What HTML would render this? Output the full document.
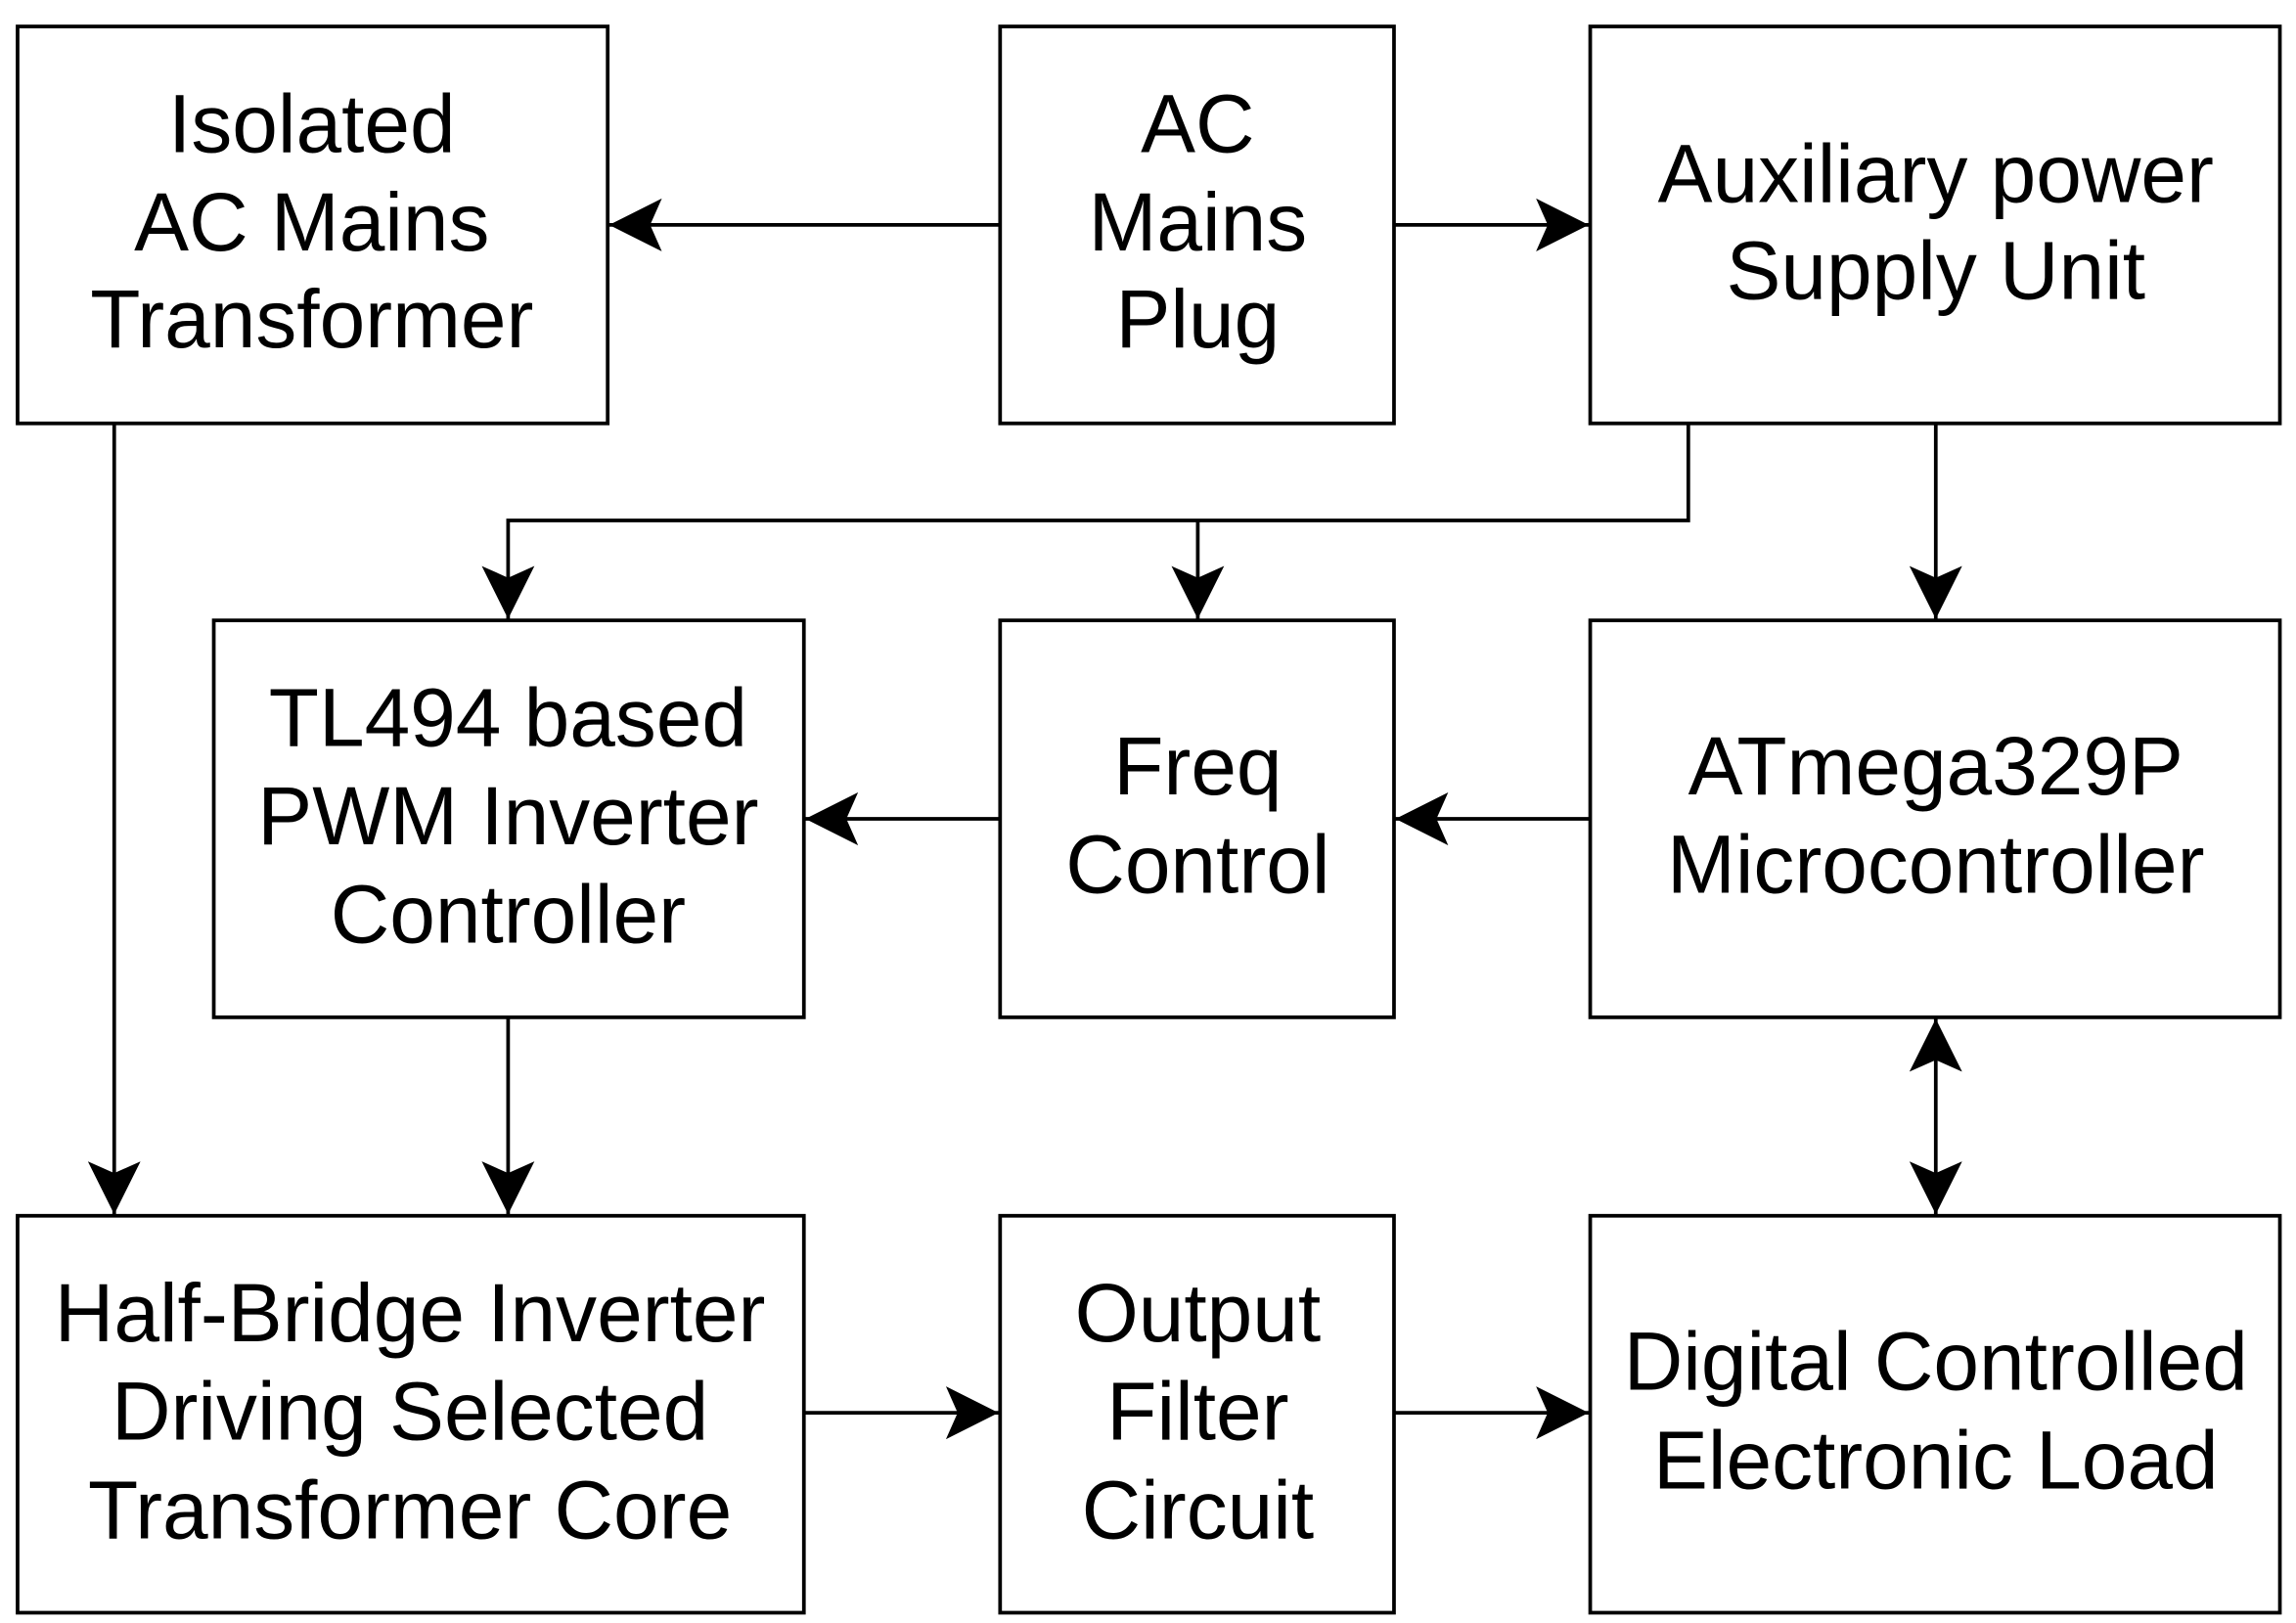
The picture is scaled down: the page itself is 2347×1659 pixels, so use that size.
<!DOCTYPE html>
<html><head><meta charset="utf-8"><style>html,body{margin:0;padding:0;background:#fff}svg{display:block}</style></head>
<body>
<svg width="2347" height="1659" viewBox="0 0 1568 1104" preserveAspectRatio="none" xmlns="http://www.w3.org/2000/svg">
<defs>
<marker id="a" viewBox="0 0 36 36" refX="36" refY="18" markerWidth="36" markerHeight="36" markerUnits="userSpaceOnUse" orient="auto-start-reverse">
<path d="M0,0 L36,18 L0,36 L8,18 Z" fill="#000"/>
</marker>
</defs>
<g fill="none" stroke="#000" stroke-width="2.5">
<rect x="12" y="18" width="403" height="270"/>
<rect x="683" y="18" width="269" height="270"/>
<rect x="1086" y="18" width="471" height="270"/>
<rect x="146" y="422" width="403" height="270"/>
<rect x="683" y="422" width="269" height="270"/>
<rect x="1086" y="422" width="471" height="270"/>
<rect x="12" y="827" width="537" height="270"/>
<rect x="683" y="827" width="269" height="270"/>
<rect x="1086" y="827" width="471" height="270"/>
<line x1="683" y1="153" x2="416" y2="153" marker-end="url(#a)"/>
<line x1="952" y1="153" x2="1085" y2="153" marker-end="url(#a)"/>
<polyline points="1153,288 1153,354 347,354 347,421" marker-end="url(#a)"/>
<line x1="818" y1="354" x2="818" y2="421" marker-end="url(#a)"/>
<line x1="1322" y1="288" x2="1322" y2="421" marker-end="url(#a)"/>
<line x1="1086" y1="557" x2="953" y2="557" marker-end="url(#a)"/>
<line x1="683" y1="557" x2="550" y2="557" marker-end="url(#a)"/>
<line x1="78" y1="288" x2="78" y2="826" marker-end="url(#a)"/>
<line x1="347" y1="692" x2="347" y2="826" marker-end="url(#a)"/>
<line x1="1322" y1="693" x2="1322" y2="826" marker-start="url(#a)" marker-end="url(#a)"/>
<line x1="549" y1="961" x2="682" y2="961" marker-end="url(#a)"/>
<line x1="952" y1="961" x2="1085" y2="961" marker-end="url(#a)"/>
</g>
<g font-family="Liberation Sans, Arial, sans-serif" font-size="56" text-anchor="middle" fill="#000" dominant-baseline="central">
<text x="213" y="84">Isolated</text><text x="213" y="151">AC Mains</text><text x="213" y="217">Transformer</text>
<text x="818" y="84">AC</text><text x="818" y="151">Mains</text><text x="818" y="217">Plug</text>
<text x="1322" y="118">Auxiliary power</text><text x="1322" y="184">Supply Unit</text>
<text x="347" y="488">TL494 based</text><text x="347" y="555">PWM Inverter</text><text x="347" y="622">Controller</text>
<text x="818" y="521">Freq</text><text x="818" y="588">Control</text>
<text x="1322" y="521">ATmega329P</text><text x="1322" y="588">Microcontroller</text>
<text x="280" y="893">Half-Bridge Inverter</text><text x="280" y="960">Driving Selected</text><text x="280" y="1027">Transformer Core</text>
<text x="818" y="893">Output</text><text x="818" y="960">Filter</text><text x="818" y="1027">Circuit</text>
<text x="1322" y="926">Digital Controlled</text><text x="1322" y="993">Electronic Load</text>
</g>
</svg>
</body></html>
